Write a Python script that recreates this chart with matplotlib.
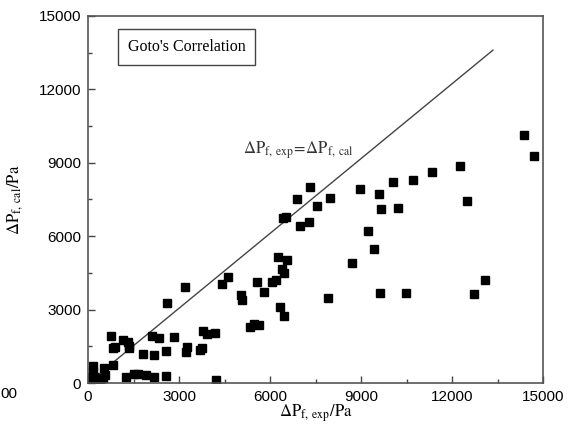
import numpy as np
import matplotlib
matplotlib.use('Agg')
import matplotlib.pyplot as plt
from matplotlib.ticker import MultipleLocator

plt.rcParams['mathtext.fontset'] = 'stix'

dp_exp = [14374, 14704, 12264, 11341, 10714, 10055, 12495, 8967, 9593, 9660,
          10220, 7978, 7550, 6890, 7319, 6429, 6989, 7286, 9231, 6264,
          6561, 8703, 6396, 9429, 13088, 9627, 10484, 12726, 4418, 4615,
          5572, 6462, 6066, 6198, 5802, 5044, 5077, 6330, 6462, 7912,
          5341, 5473, 5638, 3198, 2605, 758, 820, 890, 1154, 1319,
          1352, 1352, 2110, 2341, 2835, 1813, 2176, 2572, 3264, 3231,
          3758, 3690, 3791, 3923, 4187, 824, 1253, 1517, 1648, 1912,
          2176, 2572, 4220, 165, 165, 198, 297, 396, 527, 560,
          494, 66, 132, 6528]
dp_cal = [10136, 9278, 8869, 8624, 8297, 8215, 7438, 7929, 7725, 7111,
          7152, 7561, 7214, 7520, 8010, 6743, 6416, 6580, 6212, 5150,
          5027, 4904, 4659, 5477, 4210, 3678, 3678, 3637, 4046, 4332,
          4128, 4496, 4128, 4210, 3719, 3596, 3392, 3106, 2738, 3474,
          2289, 2411, 2370, 3944, 3270, 1921, 1430, 1471, 1757, 1676,
          1512, 1430, 1921, 1839, 1880, 1205, 1144, 1308, 1471, 1267,
          1430, 1370, 2125, 2003, 2044, 736, 245, 368, 368, 327,
          245, 286, 123, 695, 470, 245, 123, 82, 613, 327,
          204, 245, 82, 6784]

# reference line end points
line_x = [0, 13350]
line_y = [0, 13600]

fig = plt.figure(figsize=(5.68, 4.28), dpi=100)
ax = fig.add_axes([0.155, 0.105, 0.801, 0.858])

ax.plot(line_x, line_y, color='#444444', lw=1.0)
ax.plot(dp_exp, dp_cal, 's', color='black', markersize=6, linestyle='none')

ax.set_xlim(0, 15000)
ax.set_ylim(0, 15000)
ax.xaxis.set_major_locator(MultipleLocator(3000))
ax.yaxis.set_major_locator(MultipleLocator(3000))
ax.xaxis.set_minor_locator(MultipleLocator(1500))
ax.yaxis.set_minor_locator(MultipleLocator(1500))
ax.tick_params(which='both', direction='in', top=False, right=False,
               colors='#444444', labelcolor='black')
ax.tick_params(which='major', length=5, width=1, pad=5)
ax.tick_params(which='minor', length=3, width=1)
for lab in ax.get_xticklabels() + ax.get_yticklabels():
    lab.set_family('Liberation Sans')
    lab.set_fontsize(11)
for s in ax.spines.values():
    s.set_color('#555555')
    s.set_linewidth(1.2)

ax.set_xlabel(r'$\Delta\mathrm{P}_{\mathrm{f,\ exp}}/\mathrm{Pa}$', fontsize=12, labelpad=-1)
ax.set_ylabel(r'$\Delta\mathrm{P}_{\mathrm{f,\ cal}}/\mathrm{Pa}$', fontsize=12, labelpad=10)

ax.text(0.087, 0.915, "Goto's Correlation", transform=ax.transAxes,
        family='Liberation Serif', fontsize=11.5, va='center', ha='left',
        bbox=dict(boxstyle='square,pad=0.6', fc='white', ec='#444444', lw=1))
ax.text(0.34, 0.625, r'$\Delta\mathrm{P}_{\mathrm{f,\ exp}}\!=\!\Delta\mathrm{P}_{\mathrm{f,\ cal}}$',
        transform=ax.transAxes, fontsize=12, color='#333333')

fig.text(0.0, 0.07, '00', family='Liberation Sans', fontsize=11)

fig.savefig('out.png', dpi=100)
